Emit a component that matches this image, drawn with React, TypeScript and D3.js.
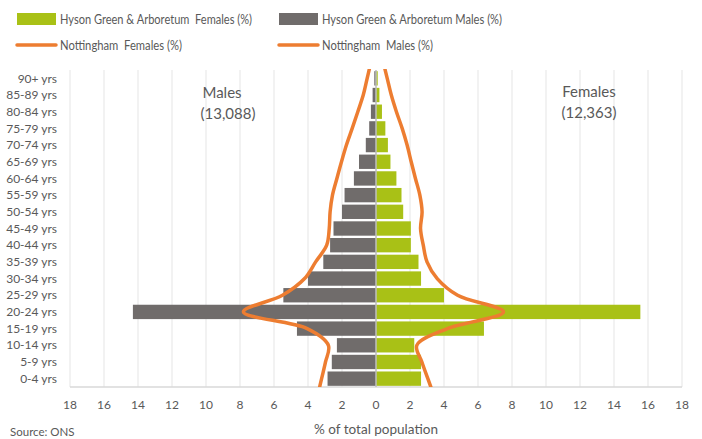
import React from "react";
import * as d3 from "d3";

const ageGroups = [
  "90+ yrs", "85-89 yrs", "80-84 yrs", "75-79 yrs", "70-74 yrs", "65-69 yrs",
  "60-64 yrs", "55-59 yrs", "50-54 yrs", "45-49 yrs", "40-44 yrs", "35-39 yrs",
  "30-34 yrs", "25-29 yrs", "20-24 yrs", "15-19 yrs", "10-14 yrs", "5-9 yrs", "0-4 yrs",
];
const hgaMales = [0.1, 0.2, 0.3, 0.4, 0.6, 1.0, 1.3, 1.85, 2.0, 2.5, 2.7, 3.1, 4.0, 5.45, 14.3, 4.65, 2.3, 2.6, 2.85];
const hgaFemales = [0.1, 0.2, 0.35, 0.55, 0.7, 0.85, 1.2, 1.5, 1.6, 2.05, 2.05, 2.5, 2.65, 4.0, 15.55, 6.35, 2.25, 2.65, 2.65];
const nottMales = [0.52, 0.75, 1.07, 1.4, 1.74, 2.03, 2.3, 2.56, 2.7, 2.75, 2.9, 3.55, 4.2, 5.5, 7.8, 4.05, 2.8, 2.97, 3.2];
const nottFemales = [0.66, 0.9, 1.2, 1.54, 1.83, 2.07, 2.32, 2.58, 2.71, 2.62, 2.78, 3.0, 3.6, 4.8, 7.5, 4.2, 2.4, 2.7, 3.05];
const xTicks = [-18, -16, -14, -12, -10, -8, -6, -4, -2, 0, 2, 4, 6, 8, 10, 12, 14, 16, 18];
const legendLabels = [
  "Hyson Green & Arboretum  Females (%)",
  "Hyson Green & Arboretum Males (%)",
  "Nottingham  Females (%)",
  "Nottingham  Males (%)",
];

const W = 702, H = 439;
const left = 70, right = 682, top = 70, bottom = 387;
const FONT = "Lato, 'Open Sans', sans-serif";
const TXT = "#595959";
const GREEN = "#A9C116";
const GRAY = "#706C6B";
const ORANGE = "#ED7D31";

export default function App() {
  const x = d3.scaleLinear().domain([-18, 18]).range([left, right]);
  const y = d3.scaleBand().domain(ageGroups).range([top, bottom]).paddingInner(0.14).paddingOuter(0.07);
  const cy = (g: string) => (y(g) as number) + y.bandwidth() / 2;

  const makePath = (vals: number[], sign: number) => {
    const pts: [number, number][] = vals.map((v, i) => [x(sign * v), cy(ageGroups[i])]);
    const n = pts.length;
    const first: [number, number] = [2 * pts[0][0] - pts[1][0], 2 * pts[0][1] - pts[1][1]];
    const last: [number, number] = [2 * pts[n - 1][0] - pts[n - 2][0], 2 * pts[n - 1][1] - pts[n - 2][1]];
    return d3.line().curve(d3.curveCatmullRom.alpha(0.5))([first, ...pts, last]) as string;
  };

  const legendItems = [
    { label: legendLabels[0], kind: "rect", color: GREEN, sx: 17, y: 19, w: 192 },
    { label: legendLabels[1], kind: "rect", color: GRAY, sx: 279, y: 19, w: 180 },
    { label: legendLabels[2], kind: "line", color: ORANGE, sx: 17, y: 45, w: 122 },
    { label: legendLabels[3], kind: "line", color: ORANGE, sx: 279, y: 45, w: 111 },
  ];

  return (
    <svg width={W} height={H} style={{ position: "absolute", left: 0, top: 0, background: "#fff" }} fontFamily={FONT}>
      <defs>
        <clipPath id="plotClip">
          <rect x={left} y={top - 1} width={right - left} height={bottom - top + 1} />
        </clipPath>
      </defs>
      {/* legend */}
      <g fontSize={13} fill={TXT}>
        {legendItems.map((it) => (
          <g key={it.label}>
            {it.kind === "rect" ? (
              <rect x={it.sx} y={it.y - 6} width={39} height={12} fill={it.color} />
            ) : (
              <line x1={it.sx} x2={it.sx + 39} y1={it.y} y2={it.y} stroke={it.color} strokeWidth={3.5} strokeLinecap="round" />
            )}
            <text
              x={it.sx + 43}
              y={it.y}
              dy="0.36em"
              textLength={it.w}
              lengthAdjust="spacingAndGlyphs"
              style={{ whiteSpace: "pre" }}
            >
              {it.label}
            </text>
          </g>
        ))}
      </g>
      {/* gridlines */}
      {xTicks.map((t) => (
        <line key={"g" + t} x1={x(t)} x2={x(t)} y1={top} y2={bottom} stroke="#EBEBEB" strokeWidth={1.3} />
      ))}
      <line x1={left} x2={right} y1={bottom} y2={bottom} stroke="#D9D9D9" strokeWidth={1.3} />
      {/* bars */}
      {ageGroups.map((g, i) => (
        <g key={g}>
          <rect x={x(-hgaMales[i])} y={y(g)} width={x(0) - x(-hgaMales[i])} height={y.bandwidth()} fill={GRAY} />
          <rect x={x(0)} y={y(g)} width={x(hgaFemales[i]) - x(0)} height={y.bandwidth()} fill={GREEN} />
        </g>
      ))}
      <line x1={x(0)} x2={x(0)} y1={top} y2={bottom} stroke="#BFBFBF" strokeWidth={1.5} />
      {/* lines */}
      <g clipPath="url(#plotClip)" fill="none" stroke={ORANGE} strokeWidth={3.5}>
        <path d={makePath(nottMales, -1)} />
        <path d={makePath(nottFemales, 1)} />
      </g>
      {/* y labels */}
      <g fontSize={12} fill={TXT} textAnchor="end">
        {ageGroups.map((g) => (
          <text key={g} x={57} y={cy(g)} dy="0.35em">{g}</text>
        ))}
      </g>
      {/* x labels */}
      <g fontSize={12} fill={TXT} textAnchor="middle">
        {xTicks.map((t) => (
          <text key={t} x={x(t)} y={409}>{Math.abs(t)}</text>
        ))}
      </g>
      <text x={x(0)} y={434} fontSize={13.5} fill={TXT} textAnchor="middle">% of total population</text>
      <text x={10} y={436} fontSize={11.5} fill={TXT}>Source: ONS</text>
      {/* annotations */}
      <g fontSize={15} fill={TXT} textAnchor="middle">
        <text x={222} y={98}>Males</text>
        <text x={228} y={119}>(13,088)</text>
        <text x={589} y={97}>Females</text>
        <text x={589} y={118}>(12,363)</text>
      </g>
    </svg>
  );
}
